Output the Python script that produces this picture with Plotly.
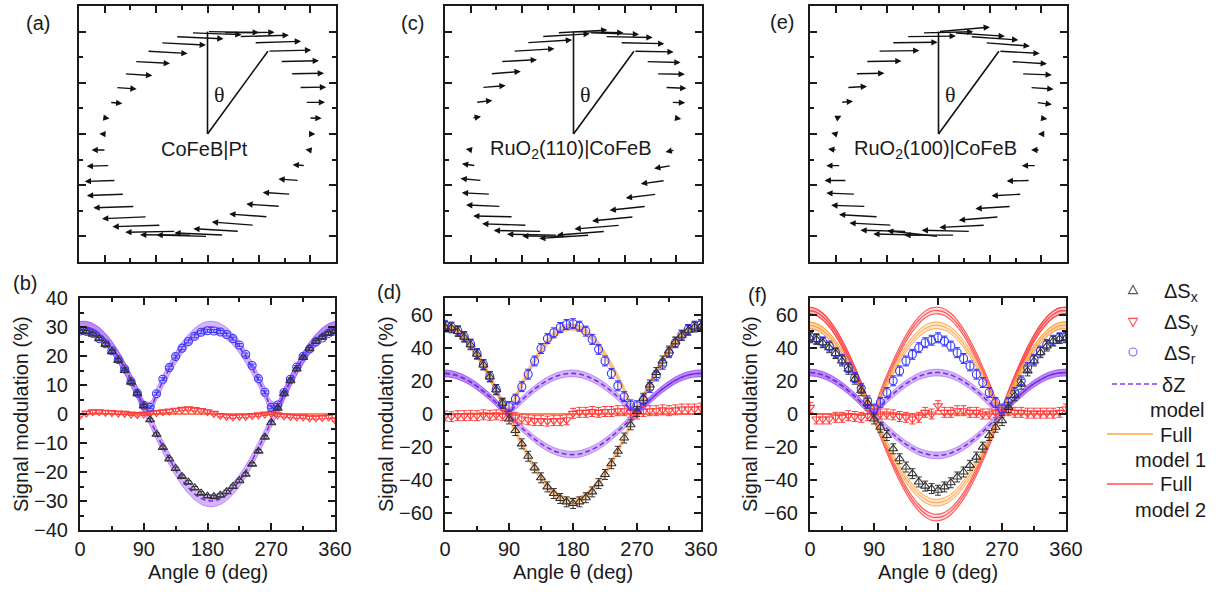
import math
import plotly.graph_objects as go

W, H = 1222, 592
FONT = "Liberation Sans, Arial, sans-serif"
SERIF = "Liberation Serif, Times New Roman, serif"
INK = "#1a1a1a"

# ---- data ----
angle = [0, 9, 18, 27, 36, 45, 54, 63, 72, 81, 90, 99, 108, 117, 126, 135, 144, 153, 162, 171,
         180, 189, 198, 207, 216, 225, 234, 243, 252, 261, 270, 279, 288, 297, 306, 315, 324,
         333, 342, 351, 360]

# (a)/(b) CoFeB|Pt
sx_b = [28.5, 28.3, 27.5, 26.0, 24.0, 21.5, 18.5, 15.0, 11.0, 7.0, 2.8, -2.0, -7.0, -11.5, -15.5,
        -18.8, -21.5, -23.5, -25.5, -27.3, -28.3, -28.5, -28.0, -26.8, -25.0, -23.0, -20.8, -17.3,
        -12.8, -8.0, -3.0, 2.0, 7.0, 11.5, 15.5, 19.5, 22.5, 25.0, 26.5, 27.8, 28.5]
sy_b = [-0.5, 0.3, 0.8, 0.8, 0.6, 0.5, 0.3, 0.2, 0.0, -0.2, 0.0, 0.3, 0.5, 0.8, 1.0, 1.3, 1.6, 1.8,
        1.5, 1.2, 0.8, 0.2, -0.5, -0.8, -1.0, -0.8, -0.8, -0.5, -0.3, 0.0, 0.2, -0.3, -0.6, -0.8,
        -1.0, -1.0, -1.3, -1.3, -1.2, -1.0, -2.0]
sr_b = [28.6, 28.5, 27.8, 26.0, 24.2, 21.8, 18.8, 15.5, 11.2, 7.2, 3.0, 2.3, 7.0, 12.0, 16.0, 19.8,
        22.7, 25.0, 26.8, 28.2, 28.7, 28.6, 28.3, 27.4, 26.0, 23.8, 20.5, 16.7, 12.2, 7.5, 2.3, 3.1,
        7.4, 12.0, 16.2, 19.9, 22.4, 24.8, 26.2, 27.8, 28.6]
dz_b = [29.9, 29.9, 29.2, 27.8, 25.7, 23.0, 19.7, 15.9, 11.7, 7.3, 2.6, -2.1, -6.8, -11.3, -15.5,
        -19.3, -22.7, -25.4, -27.6, -29.1, -29.9, -29.9, -29.2, -27.8, -25.7, -23.0, -19.7, -15.9,
        -11.7, -7.3, -2.6, 2.1, 6.8, 11.3, 15.5, 19.3, 22.7, 25.4, 27.6, 29.1, 29.9]

# (c)/(d) RuO2(110)|CoFeB
sx_d = [52.5, 52.0, 49.8, 46.4, 41.8, 36.1, 29.6, 22.4, 14.6, 6.5, -3.0, -10.0, -18.0, -25.5,
        -32.5, -38.5, -44.0, -48.0, -51.0, -53.0, -54.0, -53.0, -50.5, -47.0, -42.0, -36.5, -30.0,
        -22.5, -14.5, -6.5, 1.5, 9.5, 17.5, 25.0, 32.0, 38.0, 43.5, 47.5, 50.5, 52.5, 53.0]
sy_d = [-1.2, -1.6, -1.0, -1.0, -0.8, -1.0, -0.5, -0.8, -0.5, -1.0, -0.6, -2.0, -3.0, -3.5, -4.0,
        -4.0, -4.3, -4.0, -4.0, -3.5, 0.4, 1.0, 1.0, 1.5, 1.0, 1.5, 1.5, 2.0, 2.0, 1.0, 0.0, 1.5,
        2.0, 2.0, 2.5, 2.0, 2.5, 3.0, 3.0, 3.0, 3.5]
sr_d = [53.5, 52.5, 50.3, 46.8, 42.2, 36.5, 29.9, 22.6, 14.8, 6.5, 4.5, 9.0, 16.5, 24.0, 32.0,
        39.5, 45.5, 49.0, 52.2, 54.0, 54.5, 53.0, 50.0, 45.0, 39.0, 32.0, 24.5, 17.0, 10.5, 5.5,
        5.0, 8.5, 16.0, 23.0, 30.0, 37.0, 43.0, 47.5, 51.0, 53.0, 54.0]
dz_d = [24.5, 24.1, 23.0, 21.4, 19.3, 16.7, 13.7, 10.4, 6.8, 3.0, -0.9, -4.7, -8.4, -11.9, -15.1,
        -17.9, -20.3, -22.2, -23.5, -24.3, -24.5, -24.1, -23.0, -21.4, -19.3, -16.7, -13.7, -10.4,
        -6.8, -3.0, 0.9, 4.7, 8.4, 11.9, 15.1, 17.9, 20.3, 22.2, 23.5, 24.3, 24.5]
full1_d = [52.4, 51.6, 49.4, 45.9, 41.4, 35.8, 29.3, 22.2, 14.5, 6.4, -1.8, -10.0, -18.0, -25.5,
           -32.3, -38.4, -43.5, -47.6, -50.5, -52.1, -52.4, -51.6, -49.4, -45.9, -41.4, -35.8,
           -29.3, -22.2, -14.5, -6.4, 1.8, 10.0, 18.0, 25.5, 32.3, 38.4, 43.5, 47.6, 50.5, 52.1, 52.4]

# (e)/(f) RuO2(100)|CoFeB
sx_f = [46.0, 45.0, 43.0, 40.0, 36.5, 32.0, 27.0, 21.0, 14.0, 6.5, -3.0, -8.0, -13.0, -21.0, -27.0,
        -32.0, -36.0, -41.0, -43.5, -45.0, -46.0, -44.0, -41.5, -38.0, -35.0, -31.0, -26.0, -20.0,
        -13.0, -8.0, -4.0, 4.0, 11.0, 18.0, 26.0, 32.0, 37.0, 41.0, 44.0, 45.5, 46.0]
sy_f = [4.0, -3.0, -3.0, -3.0, -2.0, -2.0, -1.0, -1.5, -2.0, -1.0, 0.0, 0.0, 0.0, -0.5, -1.5, -2.0,
        -3.0, -2.0, 1.0, 0.0, 5.0, 1.0, 1.0, 2.0, 2.0, 1.0, 1.0, 0.0, 0.0, 1.0, 1.0, 2.0, 1.0, 1.0,
        0.5, 0.5, 0.5, 0.5, 0.5, 1.0, 3.0]
sr_f = [46.5, 45.5, 43.5, 41.0, 37.0, 33.0, 28.0, 22.0, 15.5, 8.0, 3.0, 7.0, 13.0, 20.0, 26.0, 32.0,
        36.0, 40.0, 43.0, 44.5, 46.0, 44.0, 41.0, 37.0, 33.5, 29.0, 24.0, 19.0, 13.0, 7.0, 3.0, 7.0,
        13.0, 20.0, 28.0, 33.0, 38.0, 42.0, 44.5, 46.0, 46.5]
dz_f = [25.0, 24.6, 23.5, 21.9, 19.7, 17.1, 14.0, 10.6, 6.9, 3.1, -0.9, -4.8, -8.6, -12.1, -15.4,
        -18.3, -20.7, -22.7, -24.0, -24.8, -25.0, -24.6, -23.5, -21.9, -19.7, -17.1, -14.0, -10.6,
        -6.9, -3.1, 0.9, 4.8, 8.6, 12.1, 15.4, 18.3, 20.7, 22.7, 24.0, 24.8, 25.0]
full1_f = [53.5, 52.6, 50.4, 46.9, 42.2, 36.6, 30.0, 22.7, 14.8, 6.5, -1.9, -10.2, -18.3, -26.0,
           -33.0, -39.2, -44.4, -48.6, -51.5, -53.2, -53.5, -52.6, -50.4, -46.9, -42.2, -36.6,
           -30.0, -22.7, -14.8, -6.5, 1.9, 10.2, 18.3, 26.0, 33.0, 39.2, 44.4, 48.6, 51.5, 53.2, 53.5]
full2_f = [62.4, 61.4, 58.8, 54.7, 49.3, 42.6, 34.9, 26.4, 17.3, 7.6, -2.2, -11.9, -21.4, -30.3,
           -38.5, -45.7, -51.8, -56.6, -60.1, -62.1, -62.4, -61.4, -58.8, -54.7, -49.3, -42.6,
           -34.9, -26.4, -17.3, -7.6, 2.2, 11.9, 21.4, 30.3, 38.5, 45.7, 51.8, 56.6, 60.1, 62.1, 62.4]

band_w = 2.0      # half width of model uncertainty bands (%)
sy_fit = 0.0      # model for the transverse signal
err_b, err_d, err_f = 0.5, 3.0, 3.0

panels = [
    dict(tag=("(a)", "(b)"), name="CoFeB|Pt", sx=sx_b, sy=sy_b, sr=sr_b, dz=dz_b,
         f1=None, f2=None, err=err_b, yr=40, dt=10),
    dict(tag=("(c)", "(d)"), name="RuO<sub>2</sub>(110)|CoFeB", sx=sx_d, sy=sy_d, sr=sr_d, dz=dz_d,
         f1=full1_d, f2=None, err=err_d, yr=70, dt=20),
    dict(tag=("(e)", "(f)"), name="RuO<sub>2</sub>(100)|CoFeB", sx=sx_f, sy=sy_f, sr=sr_f, dz=dz_f,
         f1=full1_f, f2=full2_f, err=err_f, yr=70, dt=20),
]

# ---- layout geometry (pixels) ----
top_x = [(79, 336), (445, 702), (810, 1067)]
bot_x = [(80, 335), (445, 701), (810, 1066)]
TOP_Y = (6, 262)
BOT_Y = (298, 530)
top_lbl = [(38, 23), (412, 23), (782, 22)]
bot_lbl = [(25, 283), (389, 292), (757, 295)]
ytitle_x = [21, 386, 750]

def dx(a, b):
    return [a / W, b / W]

def dy(t, b):
    return [1 - b / H, 1 - t / H]

def px(x):
    return x / W

def py(y):
    return 1 - y / H

def paper_text(x, y, text, xanchor="center", **kw):
    return dict(x=px(x), y=py(y), xref="paper", yref="paper", text=text, showarrow=False,
                xanchor=xanchor, yanchor="middle", font=dict(family=FONT, size=20, color=INK), **kw)

fig = go.Figure()
annotations = []
shapes = []
layout = {}

PURPLE_FILL = "rgba(160, 90, 245, 0.45)"
PURPLE_EDGE = "rgba(150, 80, 240, 0.7)"
PURPLE_DASH = "#7a2fe6"
ORANGE = "#ffa64d"
RED = "#ff4d4d"

def band(center, xa, ya, fill, edge, ew):
    lo = [c - band_w for c in center]
    hi = [c + band_w for c in center]
    fig.add_trace(go.Scatter(x=angle, y=lo, mode="lines", xaxis=xa, yaxis=ya,
                             line=dict(color=edge, width=ew, shape="spline"), hoverinfo="skip"))
    fig.add_trace(go.Scatter(x=angle, y=hi, mode="lines", xaxis=xa, yaxis=ya, fill="tonexty",
                             fillcolor=fill, line=dict(color=edge, width=ew, shape="spline"),
                             hoverinfo="skip"))

R = 4.0
for i, p in enumerate(panels):
    # ---------- top: vector diagram ----------
    n = i + 1
    xa, ya = f"x{n}", f"y{n}"
    ax_common = dict(range=[-5, 5], showticklabels=False, ticks="inside", ticklen=7, tickwidth=1.5,
                     tickcolor=INK, tick0=0, dtick=2, showgrid=False, zeroline=False, showline=True,
                     linewidth=2, linecolor=INK, mirror="allticks",
                     minor=dict(ticks="inside", ticklen=4, tickwidth=1.5, tickcolor=INK, dtick=1))
    layout[f"xaxis{n}"] = dict(domain=dx(*top_x[i]), anchor=ya, **ax_common)
    layout[f"yaxis{n}"] = dict(domain=dy(*TOP_Y), anchor=xa, **ax_common)
    fig.add_trace(go.Scatter(x=[None], y=[None], xaxis=xa, yaxis=ya, showlegend=False))

    s = 2.0 / max(abs(v) for v in p["sx"])
    for k in range(len(angle) - 1):
        th = math.radians(angle[k])
        x0, y0 = R * math.sin(th), R * math.cos(th)
        annotations.append(dict(x=x0 + s * p["sx"][k], y=y0 + s * p["sy"][k], ax=x0, ay=y0,
                                xref=xa, yref=ya, axref=xa, ayref=ya, text="", showarrow=True,
                                arrowhead=2, arrowsize=0.9, arrowwidth=1.4, arrowcolor="#111",
                                standoff=0, startstandoff=0))
    th = math.radians(36)
    shapes.append(dict(type="line", xref=xa, yref=ya, x0=0, y0=0, x1=0, y1=R,
                       line=dict(color="#111", width=1.6)))
    shapes.append(dict(type="line", xref=xa, yref=ya, x0=0, y0=0, x1=R * math.sin(th),
                       y1=R * math.cos(th), line=dict(color="#111", width=1.6)))
    annotations.append(dict(x=0.45, y=1.55, xref=xa, yref=ya, text="θ", showarrow=False,
                            xanchor="center", yanchor="middle",
                            font=dict(family=SERIF, size=22, color=INK)))
    annotations.append(dict(x=-0.1, y=-0.6, xref=xa, yref=ya, text=p["name"], showarrow=False,
                            xanchor="center", yanchor="middle",
                            font=dict(family=FONT, size=20, color=INK)))
    annotations.append(paper_text(*top_lbl[i], p["tag"][0]))

    # ---------- bottom: signal modulation ----------
    n = i + 4
    xa, ya = f"x{n}", f"y{n}"
    layout[f"xaxis{n}"] = dict(domain=dx(*bot_x[i]), anchor=ya, range=[0, 360],
                               tickvals=[0, 90, 180, 270, 360], ticks="inside", ticklen=7,
                               tickwidth=1.5, tickcolor=INK, showgrid=False, zeroline=False,
                               showline=True, linewidth=2, linecolor=INK, mirror="allticks",
                               tickfont=dict(family=FONT, size=20, color=INK), ticklabelstandoff=0,
                               minor=dict(ticks="inside", ticklen=4, tickwidth=1.5, tickcolor=INK,
                                          dtick=45, tick0=0))
    layout[f"yaxis{n}"] = dict(domain=dy(*BOT_Y), anchor=xa, range=[-p["yr"], p["yr"]], tick0=0,
                               dtick=p["dt"], ticks="inside", ticklen=7, tickwidth=1.5,
                               tickcolor=INK, showgrid=False, zeroline=False, showline=True,
                               linewidth=2, linecolor=INK, mirror="allticks",
                               tickfont=dict(family=FONT, size=20, color=INK), ticklabelstandoff=6,
                               minor=dict(ticks="inside", ticklen=4, tickwidth=1.5, tickcolor=INK,
                                          dtick=p["dt"] / 2))

    if p["f2"] is not None:
        for curve in (p["f2"], [abs(v) for v in p["f2"]]):
            band(curve, xa, ya, "rgba(255, 90, 90, 0.22)", "rgba(255, 70, 70, 0.9)", 1.1)
            fig.add_trace(go.Scatter(x=angle, y=curve, mode="lines", xaxis=xa, yaxis=ya,
                                     line=dict(color=RED, width=1.1, shape="spline"), hoverinfo="skip"))
    if p["f1"] is not None:
        if p["f2"] is not None:
            fill, edge, ew = "rgba(255, 170, 80, 0.3)", "rgba(255, 160, 60, 0.9)", 1
        else:
            fill, edge, ew = "rgba(255, 150, 50, 0.6)", "rgba(255, 150, 50, 0.6)", 0.5
        for curve in (p["f1"], [abs(v) for v in p["f1"]]):
            band(curve, xa, ya, fill, edge, ew)
            if p["f2"] is not None:
                fig.add_trace(go.Scatter(x=angle, y=curve, mode="lines", xaxis=xa, yaxis=ya,
                                         line=dict(color=ORANGE, width=1, shape="spline"),
                                         hoverinfo="skip"))

    for curve in (p["dz"], [abs(v) for v in p["dz"]]):
        band(curve, xa, ya, PURPLE_FILL, PURPLE_EDGE, 0.8)
    for curve in (p["dz"], [abs(v) for v in p["dz"]]):
        fig.add_trace(go.Scatter(x=angle, y=curve, mode="lines", xaxis=xa, yaxis=ya,
                                 line=dict(color=PURPLE_DASH, width=1.6, dash="5px,3px", shape="spline"),
                                 hoverinfo="skip"))
    fig.add_trace(go.Scatter(x=angle, y=[sy_fit] * len(angle), mode="lines", xaxis=xa, yaxis=ya,
                             line=dict(color="#ff5a2a", width=1.4)))

    for vals, sym, col in ((p["sy"], "triangle-down-open", "#ff3b3b"),
                           (p["sr"], "circle-open", "#3535ff"),
                           (p["sx"], "triangle-up-open", "#333333")):
        fig.add_trace(go.Scatter(x=angle, y=vals, mode="markers", xaxis=xa, yaxis=ya,
                                 marker=dict(symbol=sym, size=8, color=col, line=dict(width=1.1, color=col)),
                                 error_y=dict(type="constant", value=p["err"], thickness=1, width=3,
                                              color=col)))

    cx = (bot_x[i][0] + bot_x[i][1]) / 2
    cy = (BOT_Y[0] + BOT_Y[1]) / 2
    annotations.append(paper_text(cx, 572, "Angle θ (deg)"))
    annotations.append(paper_text(ytitle_x[i], cy, "Signal modulation (%)", textangle=-90))
    annotations.append(paper_text(*bot_lbl[i], p["tag"][1]))

# ---- legend (drawn by hand) ----
def tri(cx, cy, r, up):
    if up:
        pts = [(cx - r, cy + r * 0.8), (cx + r, cy + r * 0.8), (cx, cy - r)]
    else:
        pts = [(cx - r, cy - r * 0.8), (cx + r, cy - r * 0.8), (cx, cy + r)]
    return "M " + " L ".join(f"{px(a):.5f},{py(b):.5f}" for a, b in pts) + " Z"

shapes.append(dict(type="path", xref="paper", yref="paper", path=tri(1133, 290, 4.5, True),
                   line=dict(color="#555", width=1.1)))
shapes.append(dict(type="path", xref="paper", yref="paper", path=tri(1133, 322, 4.5, False),
                   line=dict(color="#ff5050", width=1.1)))
shapes.append(dict(type="circle", xref="paper", yref="paper", x0=px(1129), x1=px(1137),
                   y0=py(356), y1=py(348), line=dict(color="#7070ff", width=1.1)))
shapes.append(dict(type="line", xref="paper", yref="paper", x0=px(1112), x1=px(1157), y0=py(384),
                   y1=py(384), line=dict(color="#8a3ff0", width=1.6, dash="5px,3px")))
shapes.append(dict(type="line", xref="paper", yref="paper", x0=px(1107), x1=px(1153), y0=py(434),
                   y1=py(434), line=dict(color="#ffbb77", width=2)))
shapes.append(dict(type="line", xref="paper", yref="paper", x0=px(1107), x1=px(1153), y0=py(484),
                   y1=py(484), line=dict(color="#ff7a7a", width=2)))

legend_text = [
    ("ΔS<sub>x</sub>", 1162, 292, "left"),
    ("ΔS<sub>y</sub>", 1162, 323, "left"),
    ("ΔS<sub>r</sub>", 1162, 354, "left"),
    ("δZ", 1160, 385, "left"),
    ("model", 1206, 410, "right"),
    ("Full", 1158, 435, "left"),
    ("model 1", 1208, 460, "right"),
    ("Full", 1158, 484, "left"),
    ("model 2", 1208, 510, "right"),
]
for t, x, y, al in legend_text:
    annotations.append(paper_text(x, y, t, xanchor=al))

fig.update_layout(
    width=W, height=H, margin=dict(l=0, r=0, t=0, b=0, autoexpand=False),
    paper_bgcolor="white", plot_bgcolor="white", showlegend=False,
    font=dict(family=FONT, size=20, color=INK),
    annotations=annotations, shapes=shapes, **layout,
)

fig.write_html("out.html", config={"displayModeBar": False},
               post_script="document.body.style.margin='0px';")
